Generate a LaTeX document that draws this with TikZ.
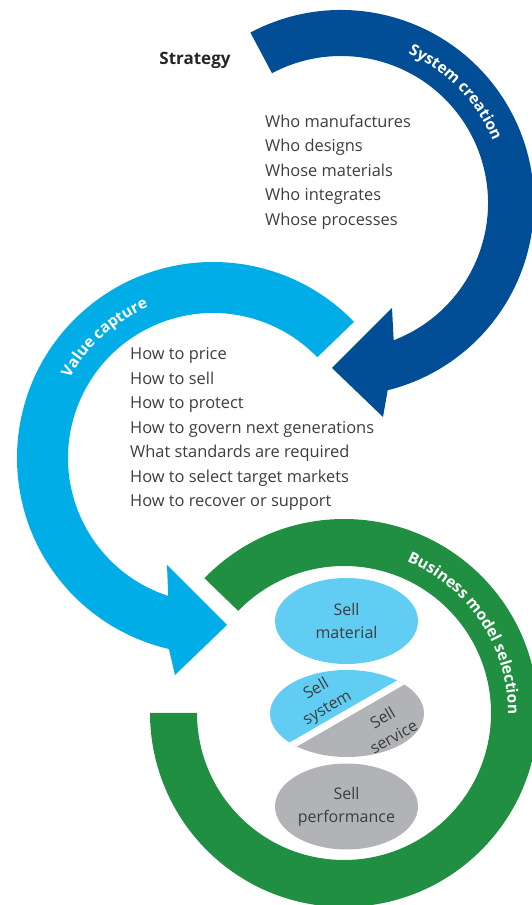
\documentclass[tikz,border=0pt]{standalone}
\usepackage{fontspec}
\setmainfont{Open Sans}
\usepackage{xcolor}
\usepackage{tikz}
\usetikzlibrary{shapes.geometric,decorations.text}
\definecolor{stratNavy}{HTML}{024E96}
\definecolor{stratSky}{HTML}{00ADE6}
\definecolor{stratGreen}{HTML}{218F41}
\definecolor{stratPale}{HTML}{62CDF3}
\definecolor{stratGrey}{HTML}{B2B3B6}
\definecolor{stratText}{HTML}{3D3D3D}

\begin{document}
\begin{tikzpicture}[x=1pt, y=1pt,
        arclabel/.style={decorate, decoration={text along path, text align=center, text color=white, text={|\fontsize{15.5}{15.5}\selectfont\bfseries|#1}}},
        list/.style={anchor=west, inner sep=0pt, align=left, text=stratText, font=\fontsize{16.4}{24.5}\selectfont},
        sell/.style={ellipse, inner sep=0pt, minimum width=143, minimum height=86, align=center, text=stratText, font=\fontsize{16}{23}\selectfont},
        tilted/.style={rotate=30, inner sep=0pt, align=center, text=stratText, font=\fontsize{16}{22}\selectfont}
    ]
        \useasboundingbox (0,0) rectangle (531,905);

        \fill[stratNavy, shift={(341,702)}] (118:193) arc[start angle=118, end angle=-76, radius=193]
            -- (42,-214) -- (-9,-165) -- (51,-105) -- (-69:147) arc[start angle=-69, end angle=118, radius=147] -- cycle;
        \fill[stratSky, shift={(213,447)}] (44:196) arc[start angle=44, end angle=257, radius=196]
            -- (-38,-217) -- (14,-167) -- (-46,-107) -- (252:145) arc[start angle=252, end angle=44, radius=145] -- cycle;
        \fill[stratGreen, shift={(344,192)}] (136:194) arc[start angle=136, end angle=-180, radius=194]
            -- (180:147) arc[start angle=-180, end angle=136, radius=147] -- cycle;

        \path[arclabel={System creation}, shift={(341,702)}] (80:164) arc[start angle=80, end angle=8, radius=164];
        \path[arclabel={Value capture}, shift={(213,447)}] (170:164) arc[start angle=170, end angle=94, radius=164];
        \path[arclabel={Business model selection}, shift={(344,192)}] (100:164) arc[start angle=100, end angle=-33, radius=164];

        \node[font=\fontsize{17}{17}\selectfont\bfseries, text=black!85] (strategy) at (195,845) {Strategy};
        \node[list] (creation) at (265,733) {
            Who manufactures\\Who designs\\Whose materials\\Who integrates\\Whose processes
        };
        \node[list] (capture) at (130,476) {
            How to price\\How to sell\\How to protect\\How to govern next generations\\What standards are required\\How to select target markets\\How to recover or support
        };

        \node[sell, fill=stratPale] (material) at (346.5,284) {Sell\\material};
        \node[sell, fill=stratGrey] (performance) at (346.5,98.5) {Sell\\performance};

        \begin{scope}
            \clip (347,191.5) ellipse[x radius=77, y radius=43.5];
            \fill[stratPale, rotate around={30:(347,191.5)}] (247,191.5) rectangle (447,261.5);
            \fill[stratGrey, rotate around={30:(347,191.5)}] (247,121.5) rectangle (447,191.5);
            \draw[white, line width=7, rotate around={30:(347,191.5)}] (247,191.5) -- (447,191.5);
        \end{scope}
        \node[tilted] (system) at (322,206) {Sell\\system};
        \node[tilted] (service) at (388,178) {Sell\\service};
    \end{tikzpicture}
\end{document}
